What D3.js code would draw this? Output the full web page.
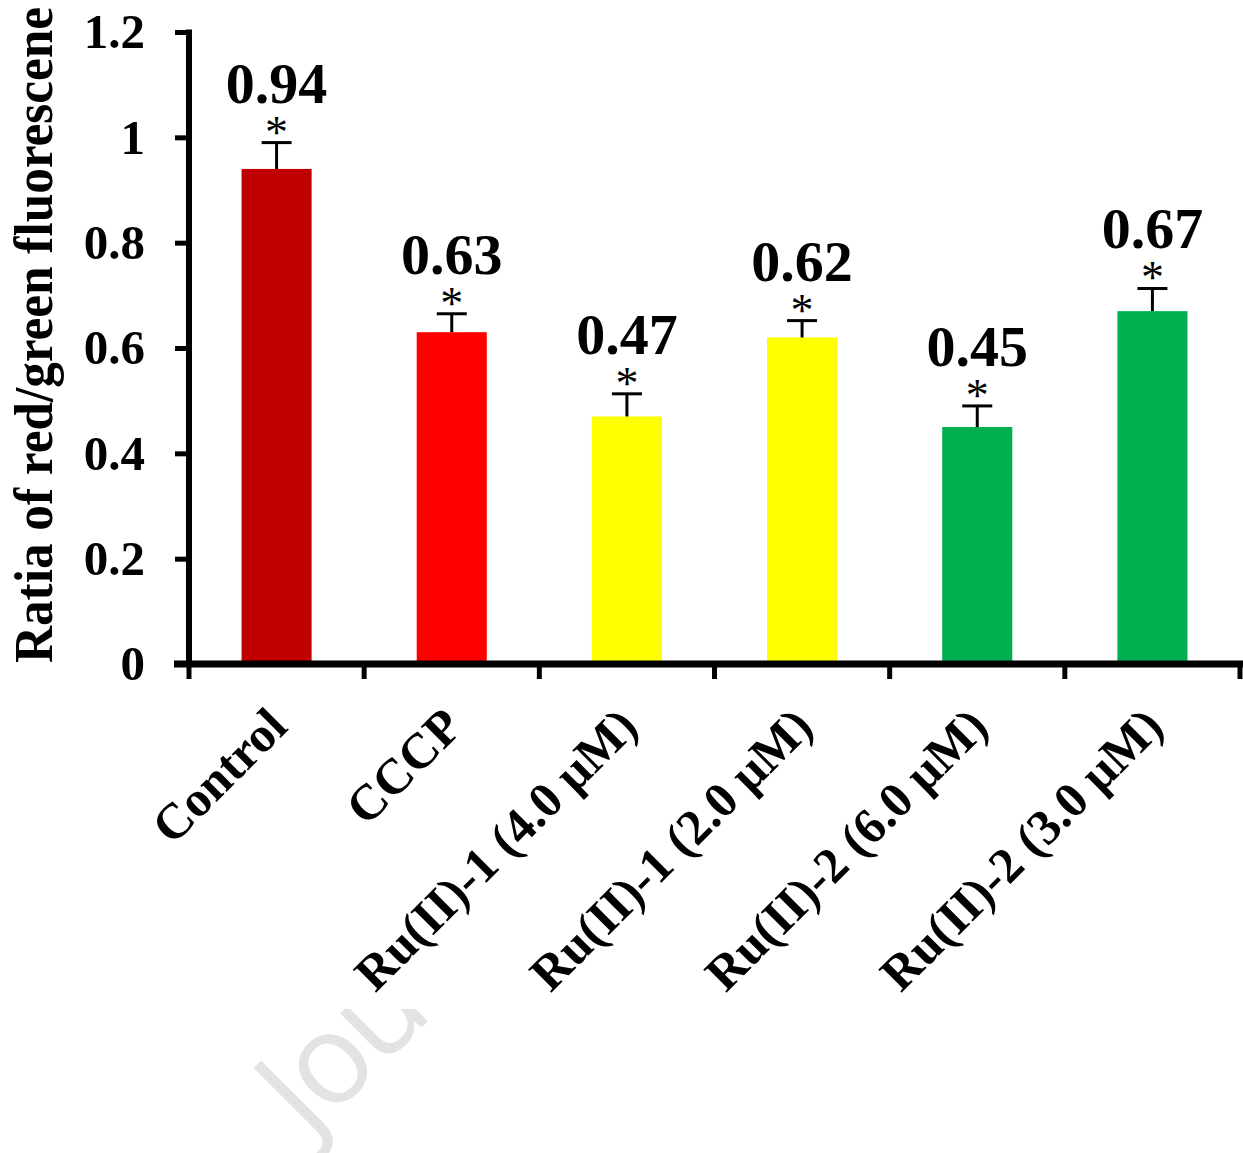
<!DOCTYPE html>
<html>
<head>
<meta charset="utf-8">
<script src="https://cdn.jsdelivr.net/npm/d3@7"></script>
<style>
  html, body { margin: 0; padding: 0; background: #fff; }
  svg { display: block; }
</style>
</head>
<body>
<svg id="chart" width="1243" height="1153"></svg>
<script>
// Mitochondrial membrane potential: JC-1 red/green fluorescence ratio
const categories = ["Control", "CCCP", "Ru(II)-1 (4.0 μM)", "Ru(II)-1 (2.0 μM)", "Ru(II)-2 (6.0 μM)", "Ru(II)-2 (3.0 μM)"];
const values = [0.94, 0.63, 0.47, 0.62, 0.45, 0.67];
const errors = [0.050, 0.035, 0.043, 0.032, 0.040, 0.043];
const valueLabels = ["0.94", "0.63", "0.47", "0.62", "0.45", "0.67"];
const significance = ["*", "*", "*", "*", "*", "*"];
const barColors = ["#C00000", "#FF0000", "#FFFF00", "#FFFF00", "#00B050", "#00B050"];
const yTicks = [0, 0.2, 0.4, 0.6, 0.8, 1, 1.2];
const yTickLabels = ["0", "0.2", "0.4", "0.6", "0.8", "1", "1.2"];
const yTitle = "Ratia of red/green fluorescene";

const svg = d3.select("#chart");
const serif = "'Liberation Serif', 'Times New Roman', serif";

// Faint journal watermark behind the plot
const defs = svg.append("defs");
defs.append("clipPath").attr("id", "wm-clip")
  .append("rect").attr("x", 0).attr("y", 1009).attr("width", 1243).attr("height", 144);
svg.append("g").attr("clip-path", "url(#wm-clip)")
  .append("text")
  .attr("transform", "translate(309,1140) rotate(-45)")
  .attr("font-family", "'Open Sans', 'Noto Sans', sans-serif")
  .attr("font-size", 126)
  .attr("letter-spacing", -4)
  .attr("fill", "#e3e3e6")
  .text("Jou");

const x = d3.scaleBand()
  .domain(categories)
  .range([189, 1240])
  .paddingInner(0.6)
  .paddingOuter(0.3);

const y = d3.scaleLinear().domain([0, 1.2]).range([664, 32]);

// Bars
svg.append("g").selectAll("rect")
  .data(categories)
  .join("rect")
  .attr("x", d => x(d))
  .attr("width", x.bandwidth())
  .attr("y", (d, i) => y(values[i]))
  .attr("height", (d, i) => y(0) - y(values[i]))
  .attr("fill", (d, i) => barColors[i]);

// Upper error bars
const eb = svg.append("g").attr("stroke", "#000").attr("stroke-width", 3);
categories.forEach((c, i) => {
  const cx = x(c) + x.bandwidth() / 2;
  const top = y(values[i] + errors[i]);
  eb.append("line").attr("x1", cx).attr("x2", cx).attr("y1", y(values[i])).attr("y2", top);
  eb.append("line").attr("x1", cx - 15).attr("x2", cx + 15).attr("y1", top).attr("y2", top);
});

// Significance marks and value labels
const lab = svg.append("g").attr("font-family", serif).attr("font-weight", "bold").attr("text-anchor", "middle").attr("fill", "#000");
categories.forEach((c, i) => {
  const cx = x(c) + x.bandwidth() / 2;
  const top = y(values[i] + errors[i]);
  lab.append("text").attr("x", cx).attr("y", top + 5).attr("font-size", 46).attr("font-weight", "normal").text(significance[i]);
  lab.append("text").attr("x", cx).attr("y", top - 40).attr("font-size", 58).text(valueLabels[i]);
});

// Y axis
const yAxis = d3.axisLeft(y).tickValues(yTicks).tickFormat((d, i) => yTickLabels[i]).tickSize(14).tickPadding(30);
const gy = svg.append("g").attr("transform", "translate(189,0)").call(yAxis);
gy.select(".domain").remove();
gy.selectAll(".tick line").attr("stroke", "#000").attr("stroke-width", 5);
gy.selectAll(".tick text").attr("font-family", serif).attr("font-weight", "bold").attr("font-size", 49).attr("fill", "#000");
svg.append("line").attr("x1", 189).attr("x2", 189).attr("y1", 29.5).attr("y2", 667).attr("stroke", "#000").attr("stroke-width", 6);

// X axis with ticks on category boundaries
const boundaries = categories.map(c => x(c) - x.step() * x.paddingInner() / 2)
  .concat([x(categories[categories.length - 1]) + x.bandwidth() + x.step() * x.paddingInner() / 2]);
svg.append("line").attr("x1", 174).attr("x2", 1243).attr("y1", 664).attr("y2", 664).attr("stroke", "#000").attr("stroke-width", 7);
svg.append("g").selectAll("line").data(boundaries).join("line")
  .attr("x1", d => d).attr("x2", d => d).attr("y1", 664).attr("y2", 679)
  .attr("stroke", "#000").attr("stroke-width", 5);

// Rotated category labels
svg.append("g").selectAll("text").data(categories).join("text")
  .attr("transform", d => `translate(${x(d) + x.bandwidth() / 2 + 13},729) rotate(-45)`)
  .attr("text-anchor", "end")
  .attr("font-family", serif).attr("font-weight", "bold").attr("font-size", 50).attr("fill", "#000")
  .text(d => d);

// Y axis title
svg.append("text")
  .attr("transform", "translate(52,335) rotate(-90)")
  .attr("text-anchor", "middle")
  .attr("font-family", serif).attr("font-weight", "bold").attr("font-size", 54)
  .attr("textLength", 656).attr("lengthAdjust", "spacingAndGlyphs")
  .attr("fill", "#000")
  .text(yTitle);
</script>
</body>
</html>
